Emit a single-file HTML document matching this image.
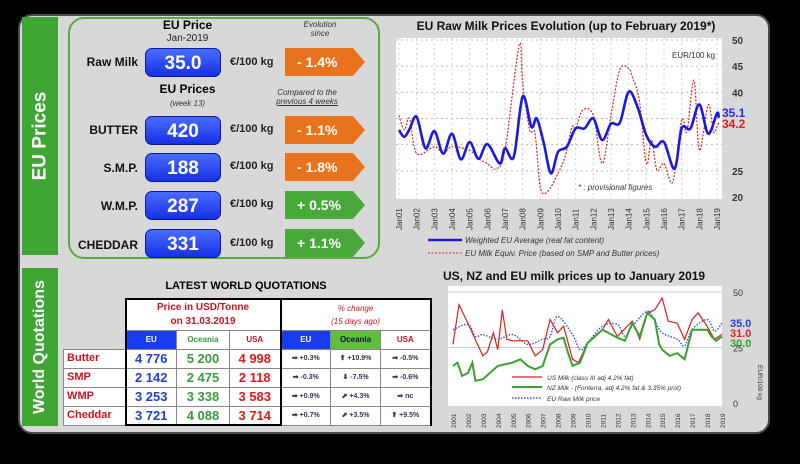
<!DOCTYPE html>
<html><head><meta charset="utf-8"><style>
*{box-sizing:border-box;margin:0;padding:0}
body{width:800px;height:464px;background:#000;position:relative;overflow:hidden;font-family:"Liberation Sans",sans-serif}
.abs{position:absolute}
.panel{left:18px;top:14px;width:752px;height:420px;background:#d8d8d8;border-radius:14px;border:2px solid #4a4a4a}
.gbar{background:#3fa535;color:#fff;font-weight:bold;font-size:19px;display:flex;align-items:center;justify-content:center}
.gbar span{transform:rotate(-90deg);white-space:nowrap}
.box{left:68px;top:17px;width:312px;height:242px;border:2px solid #5aab3f;border-radius:16px}
.lbl{font-weight:bold;font-size:12px;color:#111;text-align:right;width:80px}
.val{width:76px;height:29px;border-radius:7px;background:linear-gradient(#4a6cff,#1530e6);color:#fff;font-weight:bold;font-size:19px;text-align:center;line-height:29px;border:1px solid #0a1a9a}
.unit{font-size:11px;font-weight:bold;color:#222}
.arr{width:80px;height:28px;color:#fff;font-weight:bold;font-size:14px;line-height:28px;padding-left:12px;clip-path:polygon(0 0,85% 0,100% 50%,85% 100%,0 100%)}
.or{background:#e8731c}.gr{background:#49a83a}
.it{font-style:italic;font-size:8px;color:#333;text-align:center}
table{border-collapse:collapse;font-weight:bold;table-layout:fixed}
td{border:1px solid #888;background:#fff;text-align:center;padding:0;height:19px;font-size:13px;line-height:1;white-space:nowrap;overflow:hidden}
td.p{font-size:7px;color:#335}
</style></head><body>
<div class="abs panel"></div>
<div class="abs gbar" style="left:22px;top:17px;width:36px;height:238px"><span>EU Prices</span></div>
<div class="abs gbar" style="left:22px;top:268px;width:36px;height:158px;font-size:16px"><span>World Quotations</span></div>
<div class="abs box"></div>

<div class="abs" style="left:150px;top:18px;width:75px;text-align:center;font-weight:bold;font-size:12px">EU Price</div>
<div class="abs" style="left:150px;top:33px;width:75px;text-align:center;font-size:10px;color:#222">Jan-2019</div>
<div class="abs it" style="left:285px;top:20px;width:70px">Evolution<br>since</div>
<div class="abs" style="left:150px;top:82px;width:75px;text-align:center;font-weight:bold;font-size:12px">EU Prices</div>
<div class="abs it" style="left:150px;top:99px;width:75px">(week 13)</div>
<div class="abs it" style="left:262px;top:88px;width:90px">Compared to the<br><u>previous 4 weeks</u></div>

<div class="abs lbl" style="left:58px;top:55px">Raw Milk</div>
<div class="abs val" style="left:145px;top:48px">35.0</div>
<div class="abs unit" style="left:230px;top:56px">€/100 kg</div>
<div class="abs arr or" style="left:285px;top:48px">- 1.4%</div>

<div class="abs lbl" style="left:58px;top:123px">BUTTER</div>
<div class="abs val" style="left:145px;top:116px">420</div>
<div class="abs unit" style="left:230px;top:123px">€/100 kg</div>
<div class="abs arr or" style="left:285px;top:116px">- 1.1%</div>

<div class="abs lbl" style="left:58px;top:161px">S.M.P.</div>
<div class="abs val" style="left:145px;top:153px">188</div>
<div class="abs unit" style="left:230px;top:160px">€/100 kg</div>
<div class="abs arr or" style="left:285px;top:153px">- 1.8%</div>

<div class="abs lbl" style="left:58px;top:199px">W.M.P.</div>
<div class="abs val" style="left:145px;top:191px">287</div>
<div class="abs unit" style="left:230px;top:198px">€/100 kg</div>
<div class="abs arr gr" style="left:285px;top:191px">+ 0.5%</div>

<div class="abs lbl" style="left:58px;top:238px">CHEDDAR</div>
<div class="abs val" style="left:145px;top:229px">331</div>
<div class="abs unit" style="left:230px;top:237px">€/100 kg</div>
<div class="abs arr gr" style="left:285px;top:229px">+ 1.1%</div>

<div class="abs" style="left:125px;top:280px;width:242px;text-align:center;font-weight:bold;font-size:11px">LATEST WORLD QUOTATIONS</div>
<table class="abs" style="left:63px;top:298px;width:367px">
<colgroup><col style="width:62px"><col style="width:51px"><col style="width:53px"><col style="width:51px"><col style="width:50px"><col style="width:50px"><col style="width:50px"></colgroup>
<tr><td style="border:none;background:none;height:31px"></td><td colspan="3" style="height:31px;border:2px solid #000;border-bottom:none;color:#c8141e;font-size:10px;line-height:14px">Price in USD/Tonne<br>on 31.03.2019</td><td colspan="3" style="height:31px;border:2px solid #000;border-bottom:none;color:#c8141e;font-size:8px;font-style:italic;font-weight:normal;line-height:13px">% change<br>(15 days ago)</td></tr>
<tr><td style="border:none;background:none;height:16px"></td><td style="height:16px;background:#1a3cf0;color:#fff;font-size:8px;border-left:2px solid #000">EU</td><td style="color:#3a9a3a;font-size:8px">Oceania</td><td style="color:#c8141e;font-size:8px;border-right:2px solid #000">USA</td><td style="background:#1a3cf0;color:#fff;font-size:8px">EU</td><td style="background:#5fbf3a;color:#114;font-size:8px">Oceania</td><td style="color:#c8141e;font-size:8px;border-right:2px solid #000">USA</td></tr>
<tr><td style="color:#c8141e;text-align:left;font-size:11px">&nbsp;Butter</td><td style="color:#2040d0;border-left:2px solid #000">4 776</td><td style="color:#3a9a3a">5 200</td><td style="color:#e01818;border-right:2px solid #000">4 998</td><td class="p">➡ +0.3%</td><td class="p">⬆ +10.9%</td><td class="p" style="border-right:2px solid #000">➡ -0.5%</td></tr>
<tr><td style="color:#c8141e;text-align:left;font-size:11px">&nbsp;SMP</td><td style="color:#2040d0;border-left:2px solid #000">2 142</td><td style="color:#3a9a3a">2 475</td><td style="color:#e01818;border-right:2px solid #000">2 118</td><td class="p">➡ -0.3%</td><td class="p">⬇ -7.5%</td><td class="p" style="border-right:2px solid #000">➡ -0.6%</td></tr>
<tr><td style="color:#c8141e;text-align:left;font-size:11px">&nbsp;WMP</td><td style="color:#2040d0;border-left:2px solid #000">3 253</td><td style="color:#3a9a3a">3 338</td><td style="color:#e01818;border-right:2px solid #000">3 583</td><td class="p">➡ +0.9%</td><td class="p">⬈ +4.3%</td><td class="p" style="border-right:2px solid #000">➡ nc</td></tr>
<tr><td style="color:#c8141e;text-align:left;font-size:11px">&nbsp;Cheddar</td><td style="color:#2040d0;border-left:2px solid #000;border-bottom:2px solid #000">3 721</td><td style="color:#3a9a3a;border-bottom:2px solid #000">4 088</td><td style="color:#e01818;border-right:2px solid #000;border-bottom:2px solid #000">3 714</td><td class="p">➡ +0.7%</td><td class="p">⬈ +3.5%</td><td class="p" style="border-right:2px solid #000">⬆ +9.5%</td></tr>
</table>

<svg class="abs" id="c" style="left:0;top:0" width="800" height="464"></svg>
<script>
// Top chart: EU raw milk prices (year, value)
const euAvgYears=[2001,2001.3,2001.6,2002,2002.5,2003,2003.5,2004,2004.5,2005,2005.5,2006,2006.7,2007,2007.5,2008,2008.5,2008.8,2009.2,2009.6,2010,2010.5,2011,2011.5,2012,2012.5,2013,2013.5,2014,2014.5,2015,2015.5,2016,2016.6,2017,2017.5,2018,2018.5,2019,2019.1];
const euAvgVals=[32.8,31.5,33,35.3,29.3,32.6,28.3,32.1,27.2,30.5,27.3,30.1,26.4,29.3,27.7,39.2,33.4,35,30.2,24.5,28.6,29.6,33.1,33.1,35,30.9,34,34.2,40.1,37.2,31.8,29.6,30.5,25.4,33.1,33.1,37.7,32.1,36,35.1];
const euEqYears=[2001,2001.3,2001.6,2002,2003,2003.5,2004,2005,2005.5,2006,2006.5,2007,2007.8,2008,2008.4,2008.7,2009,2009.4,2010,2010.4,2010.8,2011,2011.4,2012,2012.5,2013,2013.5,2014,2014.2,2014.6,2015,2015.3,2015.6,2016,2016.5,2017,2017.3,2017.7,2018,2018.5,2018.8,2019,2019.1];
const euEqVals=[35.6,32.8,35,28.3,29.6,28.3,29.6,28.9,27.3,26.4,25.4,28.9,49,41.7,32.8,32.1,21.9,21,24.5,27.7,33.4,33.1,36.6,35.6,26.4,35.6,44.3,44.6,43,38.5,26.4,30.9,25.1,26.4,22.9,34.7,32.5,42.3,28.9,37.6,32.5,33.5,34.2];
const topYTicks=[20,25,40,45,50];
const topXLabels=['Jan01','Jan02','Jan03','Jan04','Jan05','Jan06','Jan07','Jan08','Jan09','Jan10','Jan11','Jan12','Jan13','Jan14','Jan15','Jan16','Jan17','Jan18','Jan19'];
// Bottom chart: US, NZ, EU milk prices
const usYears=[2001,2001.4,2002,2002.4,2003,2003.3,2003.7,2004,2004.3,2004.6,2005,2006,2006.5,2007,2007.5,2008,2008.4,2009,2009.4,2010,2010.5,2011,2011.4,2012,2013,2013.5,2014,2014.5,2015,2015.4,2016,2016.5,2017,2017.4,2018,2018.5,2019];
const usVals=[26.4,44.3,36,30,21.2,23,31.6,24,42,28.7,28,28,21.2,24,37.6,31.6,34.6,19.7,18.2,27,30,33,37.6,30,36.9,28.7,40.6,42,47.3,36.9,36,28.7,37.6,40.6,34.6,28.7,31];
const nzYears=[2001,2001.3,2001.6,2002,2002.3,2002.5,2003,2004,2005,2005.5,2006,2006.5,2007,2007.5,2008,2008.4,2008.7,2009,2009.5,2010,2011,2012,2012.5,2013,2013.5,2014,2014.5,2014.8,2015,2015.5,2016,2016.5,2017,2018,2018.3,2018.6,2019];
const nzVals=[16.7,18.2,12.2,13.5,18.2,10,10.7,16.7,18.2,19.7,16.7,15.2,16.7,26.4,28.7,29.4,22.5,16.7,18.2,27,33,29.4,28,36,30,40.6,37.6,26.4,24,21.2,22.5,19.7,33,33,30,28,30];
const euYears=[2001,2002,2002.5,2003,2004,2005,2006,2007,2007.5,2008,2009,2009.5,2010,2011,2012,2012.5,2013,2014,2014.5,2015,2016,2016.5,2017,2018,2018.5,2019];
const euVals=[33,35.4,30,30.8,28.7,30.8,26.4,28.7,30,39,30.8,24,27,34.6,35.4,30,34.6,41.3,36.9,31.6,28.7,25.7,33,37.6,32.4,36];
const botYTicks=[0,25,50];
const botXLabels=['2001','2002','2003','2004','2005','2006','2007','2008','2009','2010','2011','2012','2013','2014','2015','2016','2017','2018','2019'];

const svg=document.getElementById('c');const NS='http://www.w3.org/2000/svg';
function mk(t,a,p){const e=document.createElementNS(NS,t);for(const k in a)e.setAttribute(k,a[k]);(p||svg).appendChild(e);return e;}
const tx=y=>399+(y-2001)*(717-399)/18, ty=v=>197-(v-20)*157/30;
const bx=y=>453+(y-2001)*(722-453)/18, by=v=>403-v*111/50;
function path(xs,vs,fx,fy,st,p,smooth){
  const P=xs.map((x,i)=>[fx(x),fy(vs[i])]);let d='M'+P[0][0].toFixed(1)+','+P[0][1].toFixed(1);
  for(let i=1;i<P.length;i++){
    if(smooth){const p0=P[Math.max(0,i-2)],p1=P[i-1],p2=P[i],p3=P[Math.min(P.length-1,i+1)];
      const c1=[p1[0]+(p2[0]-p0[0])/6,p1[1]+(p2[1]-p0[1])/6],c2=[p2[0]-(p3[0]-p1[0])/6,p2[1]-(p3[1]-p1[1])/6];
      d+='C'+c1.map(v=>v.toFixed(1))+' '+c2.map(v=>v.toFixed(1))+' '+P[i][0].toFixed(1)+','+P[i][1].toFixed(1);}
    else d+='L'+P[i][0].toFixed(1)+','+P[i][1].toFixed(1);}
  return mk('path',Object.assign({d:d,fill:'none'},st),p);}

let g=mk('g',{});
mk('text',{x:566,y:30,'text-anchor':'middle','font-size':12,'font-weight':'bold',fill:'#111'},g).textContent='EU Raw Milk Prices Evolution (up to  February 2019*)';
mk('rect',{x:396,y:38,width:326,height:161,fill:'#fff'},g);
for(let v=25;v<=50;v+=5)mk('line',{x1:396,x2:722,y1:ty(v),y2:ty(v),stroke:'#bbb','stroke-dasharray':'2,3'},g);
topXLabels.forEach((l,i)=>{mk('line',{x1:tx(2001+i),x2:tx(2001+i),y1:38,y2:199,stroke:'#ccc','stroke-dasharray':'2,3'},g);
 const t=mk('text',{transform:`translate(${tx(2001+i)+3},${230}) rotate(-90)`,'font-size':8,fill:'#333'},g);t.textContent=l;});
topYTicks.forEach(v=>{const t=mk('text',{x:732,y:ty(v)+4,'font-size':10,'font-weight':'bold',fill:'#333'},g);t.textContent=v;});
mk('text',{x:672,y:58,'font-size':8,fill:'#333'},g).textContent='EUR/100 kg';
mk('text',{x:578,y:190,'font-size':8,'font-style':'italic',fill:'#333'},g).textContent='* : provisional figures';
let e=path(euEqYears,euEqVals,tx,ty,{stroke:'#e02020','stroke-width':1.2,'stroke-dasharray':'2,1.5'},g,true);

e=path(euAvgYears,euAvgVals,tx,ty,{stroke:'#1a1adc','stroke-width':2.6,'stroke-linejoin':'round'},g,true);

mk('text',{x:722,y:117,'font-size':12,'font-weight':'bold',fill:'#2030e0'},g).textContent='35.1';
mk('text',{x:722,y:128,'font-size':12,'font-weight':'bold',fill:'#e02020'},g).textContent='34.2';
mk('line',{x1:428,x2:462,y1:240,y2:240,stroke:'#1a1adc','stroke-width':2.5},g);
mk('text',{x:465,y:243,'font-size':8,'font-style':'italic',fill:'#333'},g).textContent='Weighted EU Average (real fat content)';
mk('line',{x1:428,x2:462,y1:253,y2:253,stroke:'#e02020','stroke-width':1,'stroke-dasharray':'2,1.5'},g);
mk('text',{x:465,y:256,'font-size':8,'font-style':'italic',fill:'#333'},g).textContent='EU Milk Equiv. Price (based on SMP and Butter prices)';

let h=mk('g',{});
mk('text',{x:443,y:280,'font-size':12,'font-weight':'bold',fill:'#111'},h).textContent='US, NZ and EU milk prices up to January 2019';
mk('rect',{x:448,y:286,width:274,height:120,fill:'#fff'},h);
[25,50].forEach(v=>mk('line',{x1:448,x2:722,y1:by(v),y2:by(v),stroke:'#ccc'},h));
botYTicks.forEach(v=>{mk('text',{x:733,y:by(v)+4,'font-size':9,fill:'#333'},h).textContent=v;});
botXLabels.forEach((l,i)=>{const t=mk('text',{transform:`translate(${bx(2001+i)+3},${428}) rotate(-90)`,'font-size':6.5,fill:'#333'},h);t.textContent=l;});
e=path(euYears,euVals,bx,by,{stroke:'#3050e0','stroke-width':1.4,'stroke-dasharray':'1.5,1.5'},h,true);

e=path(usYears,usVals,bx,by,{stroke:'#d82020','stroke-width':1.2},h,false);

e=path(nzYears,nzVals,bx,by,{stroke:'#3aa030','stroke-width':2},h,false);

mk('text',{x:730,y:327,'font-size':11,'font-weight':'bold',fill:'#2040e0'},h).textContent='35.0';
mk('text',{x:730,y:337,'font-size':11,'font-weight':'bold',fill:'#e02020'},h).textContent='31.0';
mk('text',{x:730,y:347,'font-size':11,'font-weight':'bold',fill:'#3aa030'},h).textContent='30.0';
mk('line',{x1:512,x2:542,y1:377,y2:377,stroke:'#d82020','stroke-width':1.2},h);
mk('text',{x:547,y:380,'font-size':6.5,'font-style':'italic',fill:'#333'},h).textContent='US Milk (class III adj 4.2% fat)';
mk('line',{x1:512,x2:542,y1:387,y2:387,stroke:'#3aa030','stroke-width':2},h);
mk('text',{x:547,y:390,'font-size':6.5,'font-style':'italic',fill:'#333'},h).textContent='NZ Milk - (Fonterra, adj 4.2% fat & 3.35% prot)';
mk('line',{x1:512,x2:542,y1:398,y2:398,stroke:'#3050e0','stroke-width':1.4,'stroke-dasharray':'1.5,1.5'},h);
mk('text',{x:547,y:401,'font-size':6.5,'font-style':'italic',fill:'#333'},h).textContent='EU Raw Milk price';
mk('text',{transform:'translate(758,365) rotate(90)','font-size':6.5,fill:'#333'},h).textContent='EUR/100 kg';
</script>
</body></html>
